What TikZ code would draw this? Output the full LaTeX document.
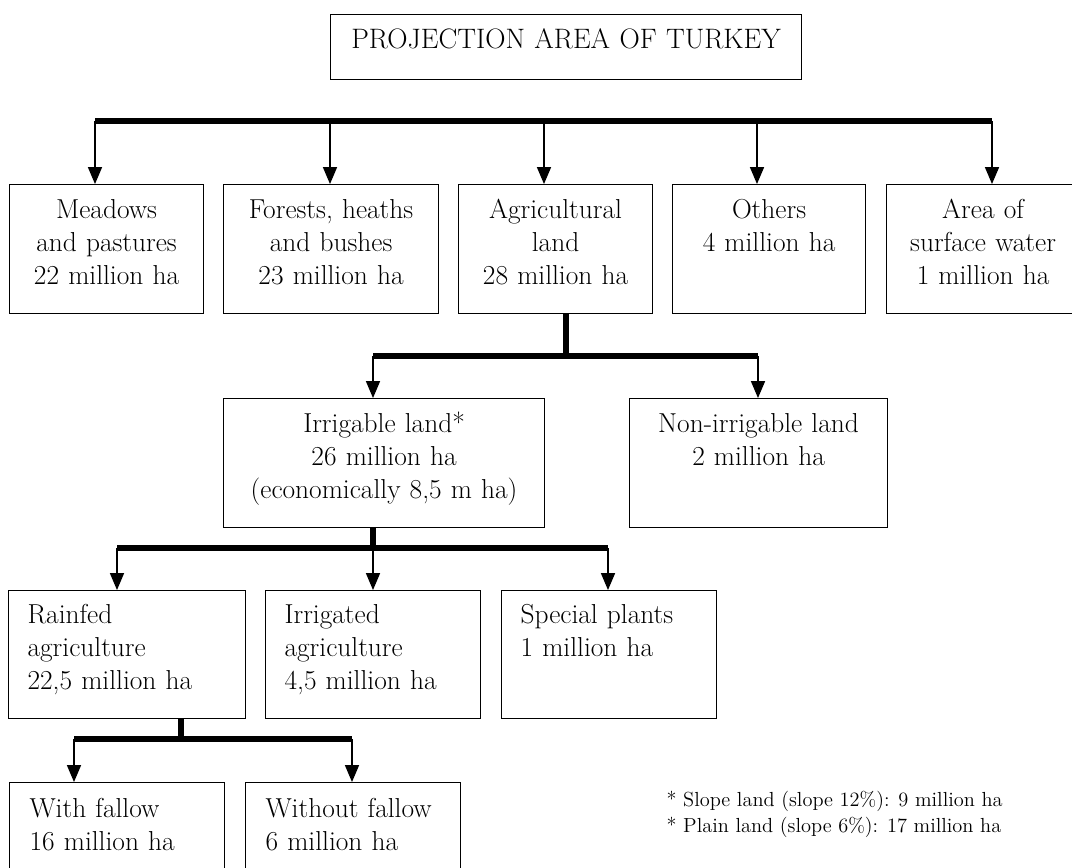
\documentclass[tikz,border=0pt]{standalone}
\usetikzlibrary{arrows.meta}

\newcommand{\boxfont}{\fontsize{19.5}{23.5}\selectfont}
\newcommand{\titlefont}{\fontsize{20}{24}\selectfont}
\newcommand{\notefont}{\fontsize{14.5}{18.5}\selectfont}

\begin{document}
\begin{tikzpicture}[%
        x=0.25mm, y=-0.25mm,
        every node/.style={draw, line width=0.8pt, inner sep=0pt, font=\boxfont, anchor=north west},
        titlebox/.style={align=center, font=\titlefont, text height=8.5mm, text depth=7.75mm},
        midbox/.style={align=center, text height=8.5mm, text depth=23.75mm},
        leftbox/.style={align=left, inner xsep=4.75mm, text height=8.25mm, text depth=23.75mm},
        lastbox/.style={align=left, inner xsep=5mm, text height=8.75mm, text depth=20mm},
        bar/.style={line width=1.3mm},
        arrow/.style={line width=0.8pt, -{Triangle[width=3.5mm,length=4.2mm]}}
    ]
    \path[use as bounding box, clip] (0,0) rectangle (1072,867);

    % --- Title ---
    \node[titlebox, text width=117.75mm] (turkey) at (330,14) {PROJECTION AREA OF TURKEY};

    % --- First level ---
    \node[midbox, text width=48.5mm] (meadows) at (9,184) {Meadows\\ and pastures\\ 22 million ha};
    \node[midbox, text width=53.75mm] (forests) at (223,184) {Forests, heaths\\ and bushes\\ 23 million ha};
    \node[midbox, text width=48.5mm] (agri) at (458,184) {Agricultural\\ land\\ 28 million ha};
    \node[midbox, text width=48.25mm] (others) at (672,184) {Others\\ 4 million ha};
    \node[midbox, text width=48.25mm] (water) at (886,184) {Area of\\ surface water\\ 1 million ha};

    \coordinate (t1) at (95,121);
    \coordinate (t2) at (330,121);
    \coordinate (t3) at (544,121);
    \coordinate (t4) at (757,121);
    \coordinate (t5) at (992,121);
    \draw[bar] (t1) -- (t5);
    \foreach \c/\n in {t1/meadows, t2/forests, t3/agri, t4/others, t5/water}
        \draw[arrow] (\c) -- (\c |- \n.north);

    % --- Agricultural land ---
    \node[midbox, text width=80.25mm] (irrig) at (223,398) {Irrigable land*\\ 26 million ha\\ (economically 8,5 m ha)};
    \node[midbox, text width=64.5mm] (nonirrig) at (629,398) {Non-irrigable land\\ 2 million ha};

    \coordinate (a0) at (566,356);
    \coordinate (a1) at (373,356);
    \coordinate (a2) at (758,356);
    \draw[bar] (a0 |- agri.south) -- (a0);
    \draw[bar] (a1) -- (a2);
    \draw[arrow] (a1) -- (a1 |- irrig.north);
    \draw[arrow] (a2) -- (a2 |- nonirrig.north);

    % --- Irrigable land ---
    \node[leftbox, text width=49.75mm] (rainfed) at (8,590) {Rainfed\\ agriculture\\ 22,5 million ha};
    \node[leftbox, text width=44.25mm] (irrigated) at (265,590) {Irrigated\\ agriculture\\ 4,5 million ha};
    \node[leftbox, text width=44.25mm] (special) at (501,590) {Special plants\\ 1 million ha};

    \coordinate (i0) at (373,548);
    \coordinate (i1) at (117,548);
    \coordinate (i2) at (608,548);
    \draw[bar] (i0 |- irrig.south) -- (i0);
    \draw[bar] (i1) -- (i2);
    \foreach \c/\n in {i1/rainfed, i0/irrigated, i2/special}
        \draw[arrow] (\c) -- (\c |- \n.north);

    % --- Rainfed agriculture ---
    \node[lastbox, text width=43.75mm] (withf) at (9,782) {With fallow\\ 16 million ha};
    \node[lastbox, text width=43.75mm] (withoutf) at (245,782) {Without fallow\\ 6 million ha};

    \coordinate (r0) at (181,739);
    \coordinate (r1) at (74,739);
    \coordinate (r2) at (352,739);
    \draw[bar] (r0 |- rainfed.south) -- (r0);
    \draw[bar] (r1) -- (r2);
    \draw[arrow] (r1) -- (r1 |- withf.north);
    \draw[arrow] (r2) -- (r2 |- withoutf.north);

    % --- Footnote ---
    \node[draw=none, anchor=base west, align=left, font=\notefont] (note) at (666,832)
        {* Slope land (slope 12\%): 9 million ha\\ * Plain land (slope 6\%): 17 million ha};
\end{tikzpicture}
\end{document}
